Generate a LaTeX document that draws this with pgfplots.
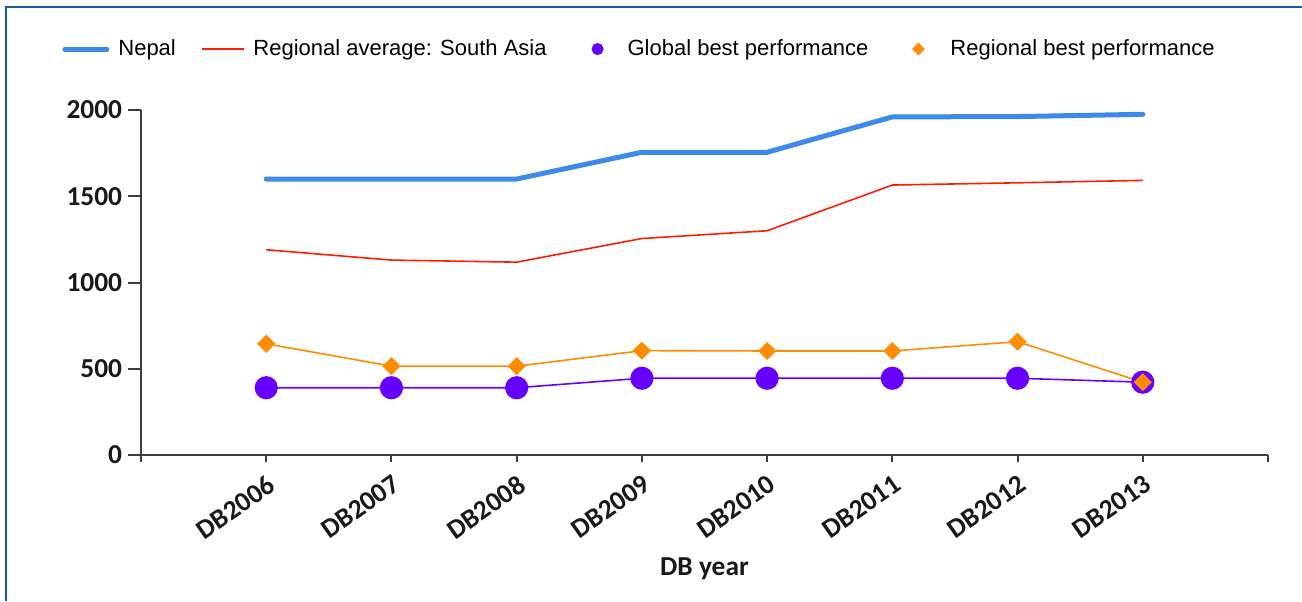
\documentclass[border=0pt]{standalone}
\usepackage{pgfplots}
\pgfplotsset{compat=1.18}
\usepackage{fontspec}
\setmainfont{Liberation Sans}
\newfontfamily\carlito{Carlito}

\definecolor{nepal}{RGB}{62,138,235}
\definecolor{regavg}{RGB}{255,28,0}
\definecolor{globbest}{RGB}{102,0,255}
\definecolor{regbest}{RGB}{255,140,0}
\definecolor{frameblue}{RGB}{28,88,160}
\definecolor{axisgray}{RGB}{60,60,60}

\pgfplotsset{
  lineleg/.style={legend image code/.code={\draw[##1] (0pt,0pt) -- (21pt,0pt);}},
}

\begin{document}
\begin{tikzpicture}[x=0.5pt,y=-0.5pt]
\path[use as bounding box] (0,0) rectangle (1302,601);
\draw[frameblue, line width=1.2pt] (6,601) -- (6,7) -- (1302,7);
\begin{axis}[
  at={(70.5pt,-227.5pt)}, anchor=south west,
  scale only axis, width=563.5pt, height=172.5pt,
  xmin=-1, xmax=8, ymin=0, ymax=2000,
  axis lines*=left,
  axis line style={axisgray, line width=1pt},
  tick style={axisgray, line width=1pt},
  tick align=outside,
  xtick={-1,0,...,8},
  xticklabels={,DB2006,DB2007,DB2008,DB2009,DB2010,DB2011,DB2012,DB2013,},
  ytick={0,500,...,2000},
  /pgf/number format/1000 sep={},
  /pgf/number format/assume math mode=true,
  xtick style={/pgfplots/major tick length=3.5pt},
  ytick style={/pgfplots/major tick length=6.5pt},
  tick label style={font=\carlito\bfseries\fontsize{13.7}{16}\selectfont, text=black!90},
  xticklabel style={xshift=0pt, yshift=-5pt, rotate=35, anchor=north east, inner sep=0pt},
  yticklabel style={inner sep=0pt, xshift=-5pt},
  xlabel={DB year},
  every axis x label/.style={at={(axis description cs:0.5,-0.330)}, anchor=center,
    font=\carlito\bfseries\fontsize{13.7}{16}\selectfont, text=black!90},
  legend columns=4,
  legend style={at={(axis description cs:-0.0701,1.1767)}, anchor=west, draw=none,
    inner sep=0pt, font=\fontsize{11}{13}\selectfont,
    nodes={inner xsep=0pt, inner ysep=1pt},
    /tikz/column 1/.style={column sep=4.5pt},
    /tikz/column 2/.style={column sep=12.5pt},
    /tikz/column 3/.style={column sep=4.5pt},
    /tikz/column 4/.style={column sep=15pt},
    /tikz/column 5/.style={column sep=4.5pt},
    /tikz/column 6/.style={column sep=14.5pt},
    /tikz/column 7/.style={column sep=5.5pt}},
  legend cell align=left,
]
\addplot[nepal, line width=2.5pt, line cap=round, lineleg]
  coordinates {(0,1600) (1,1600) (2,1600) (3,1755) (4,1755) (5,1960) (6,1962) (7,1975)};
\addlegendentry{Nepal}
\addplot[regavg, line width=0.8pt, lineleg]
  coordinates {(0,1190) (1,1130) (2,1118) (3,1255) (4,1300) (5,1565) (6,1578) (7,1592)};
\addlegendentry{Regional average: South Asia}
\addplot[globbest, line width=0.8pt, mark=*, mark size=5.4pt,
  legend image code/.code={\path[draw=none] (0pt,0pt) -- (21pt,0pt);\fill[globbest] (10.5pt,0pt) circle (2.6pt);}]
  coordinates {(0,390) (1,390) (2,390) (3,445) (4,445) (5,445) (6,445) (7,422)};
\addlegendentry{Global best performance}
\addplot[regbest, line width=0.8pt, mark=square*, mark size=2.8pt, mark options={rotate=45},
  legend image code/.code={\path[draw=none] (0pt,0pt) -- (21pt,0pt);\fill[regbest] (10.5pt,2.6pt) -- (13.1pt,0pt) -- (10.5pt,-2.6pt) -- (7.9pt,0pt) -- cycle;}]
  coordinates {(0,645) (1,515) (2,515) (3,605) (4,603) (5,603) (6,657) (7,422)};
\addlegendentry{Regional best performance}
\end{axis}
\end{tikzpicture}
\end{document}
